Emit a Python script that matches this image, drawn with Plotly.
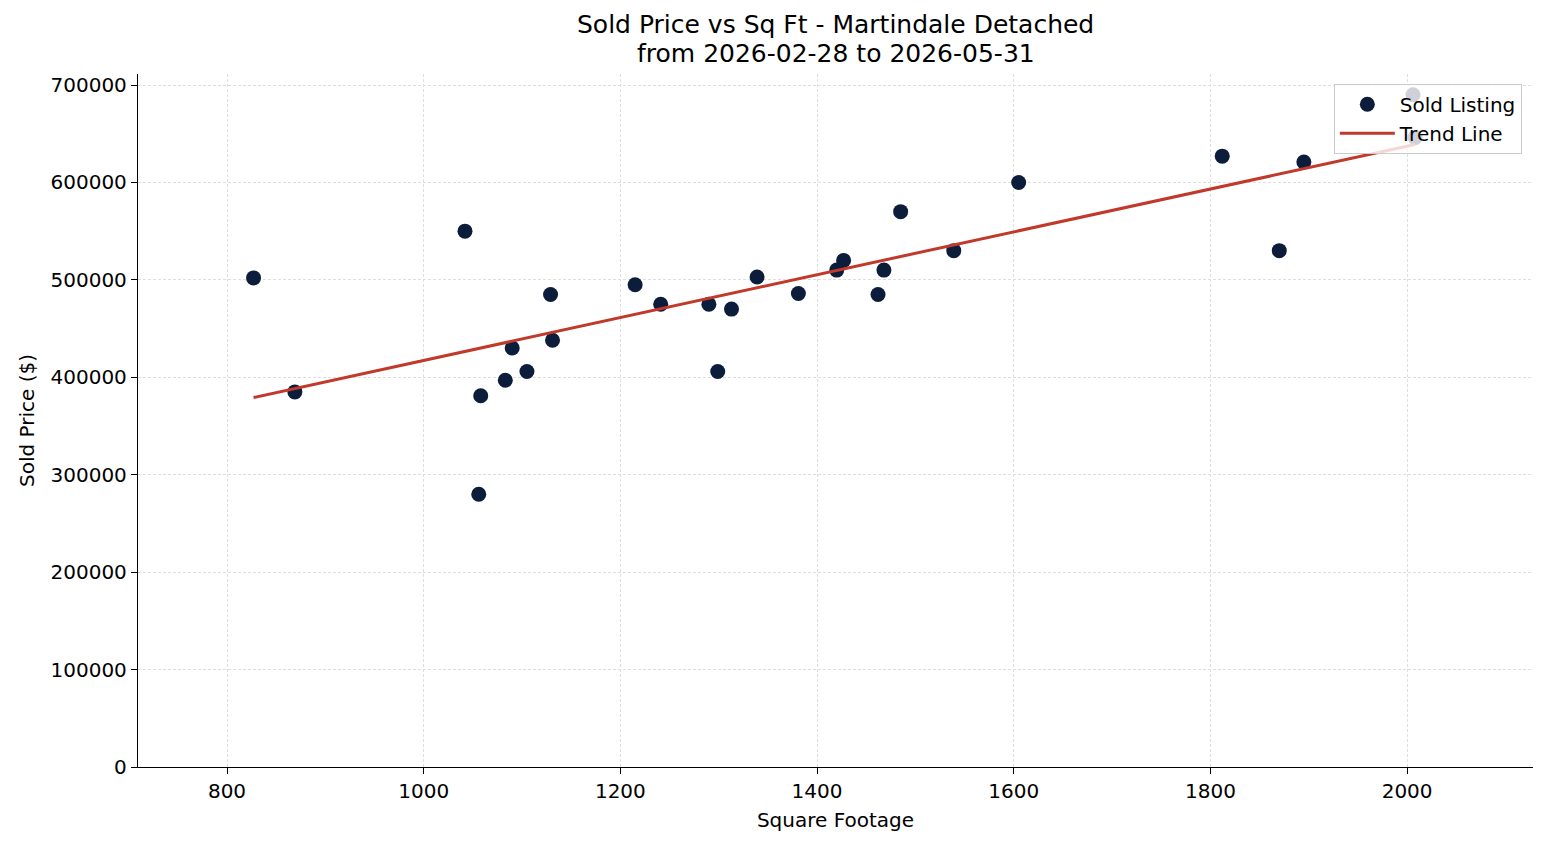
import numpy as np
import plotly.graph_objects as go

sqft = [827, 869, 1042, 1056, 1058, 1083, 1090, 1105, 1129, 1131, 1215, 1241, 1290, 1299,
        1313, 1339, 1381, 1420, 1427, 1462, 1468, 1485, 1539, 1605, 1812, 1870, 1895, 2006, 2008]
price = [502000, 385000, 550000, 280000, 381000, 397000, 430000, 406000, 485000, 438000,
         495000, 475000, 475000, 406000, 470000, 503000, 486000, 510000, 520000, 485000,
         510000, 570000, 530000, 600000, 627000, 530000, 621000, 690000, 646000]
title_lines = ["Sold Price vs Sq Ft - Martindale Detached", "from 2026-02-28 to 2026-05-31"]

coef = np.polyfit(sqft, price, 1)
tx = [min(sqft), max(sqft)]
ty = [coef[0] * v + coef[1] for v in tx]

FONT = "DejaVu Sans"
fig = go.Figure()
fig.add_trace(go.Scatter(x=sqft, y=price, mode="markers", name="Sold Listing",
                         marker=dict(size=15, color="#0b1d3a")))
fig.add_trace(go.Scatter(x=tx, y=ty, mode="lines", name="Trend Line",
                         line=dict(color="#c0392b", width=3)))

axis_common = dict(showline=True, linecolor="black", linewidth=1.3, ticks="outside",
                   ticklen=6, tickcolor="black", tickwidth=1.2, showgrid=True, gridcolor="#dedede",
                   griddash="3px,2px", gridwidth=0.8, zeroline=False,
                   tickfont=dict(family=FONT, size=20, color="black"), mirror=False)
fig.update_xaxes(range=[709.5, 2128], dtick=200, tick0=0,
                 title=dict(text="Square Footage", font=dict(family=FONT, size=20, color="black"), standoff=10),
                 **axis_common)
fig.update_yaxes(range=[0, 711300], dtick=100000, tick0=0, tickformat="d",
                 title=dict(text="Sold Price ($)", font=dict(family=FONT, size=20, color="black"), standoff=10),
                 **axis_common)

plot_top, plot_h = 74, 693
for txt, cy in zip(title_lines, [25, 54]):
    fig.add_annotation(text=txt, xref="paper", yref="paper", x=0.5, y=1 + (plot_top - cy) / plot_h,
                       xanchor="center", yanchor="middle", showarrow=False,
                       font=dict(family=FONT, size=25, color="black"))

fig.update_layout(
    width=1547, height=845,
    margin=dict(l=138, r=14, t=74, b=78),
    plot_bgcolor="white", paper_bgcolor="white",
    legend=dict(x=0.992, xanchor="right", y=0.986, yanchor="top",
                bgcolor="rgba(255,255,255,0.8)", bordercolor="#cccccc", borderwidth=1,
                itemwidth=55,
                font=dict(family=FONT, size=20, color="black")),
    showlegend=True,
)
fig.write_html("out.html")
